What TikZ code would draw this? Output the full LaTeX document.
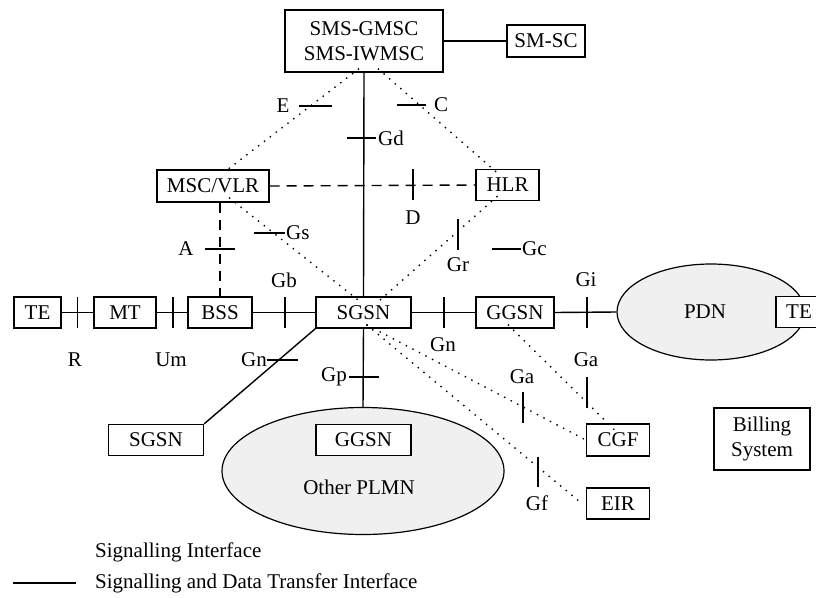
\documentclass[tikz,border=0pt]{standalone}
\usepackage{fontspec}
\setmainfont{Liberation Serif}
\usetikzlibrary{shapes.geometric,calc}
\definecolor{pdnfill}{HTML}{F0F0F0}
\begin{document}
\begin{tikzpicture}[x=1pt,y=-1pt,
  every node/.style={font=\fontsize{21}{25}\selectfont},
  box/.style={draw,line width=1.4pt,rectangle,inner sep=0pt,minimum height=31pt,fill=white},
  cloud/.style={draw,line width=1.2pt,ellipse,fill=pdnfill,inner sep=0pt},
  solidline/.style={line width=1.4pt},
  dotline/.style={line width=1.4pt,dash pattern=on 1.4pt off 6pt},
  dashline/.style={line width=1.4pt,dash pattern=on 10pt off 7pt},
  tickline/.style={line width=1.4pt},
  lbl/.style={inner sep=0pt}]
\clip (0,0) rectangle (816,597);
\fill[white] (0,0) rectangle (816,597);

% clouds first
\node[cloud,minimum width=188pt,minimum height=96pt] (pdn) at (711,312) {};
\node[lbl] (pdnlbl) at (705,312) {PDN};
\node[cloud,minimum width=282pt,minimum height=127pt] (plmn) at (363,471) {};
\node[lbl] (plmnlbl) at (359,487) {Other PLMN};

% boxes
\node[box,minimum width=158pt,minimum height=62pt,align=center] (sms) at (364,41) {SMS-GMSC\\SMS-IWMSC};
\node[box,minimum width=78pt,minimum height=32pt] (smsc) at (546,41) {SM-SC};
\node[box,minimum width=112pt,minimum height=32pt] (msc) at (213,186) {MSC/VLR};
\node[box,minimum width=63pt] (hlr) at (507.5,185) {HLR};
\node[box,minimum width=47pt] (te1) at (37.5,312.5) {TE};
\node[box,minimum width=62pt] (mt) at (125,312.5) {MT};
\node[box,minimum width=64pt] (bss) at (220,312.5) {BSS};
\node[box,minimum width=95pt] (sgsn) at (363.5,312.5) {SGSN};
\node[box,minimum width=78pt] (ggsn) at (515,312.5) {GGSN};
\node[box,minimum width=46pt] (te2) at (799,312) {TE};
\node[box,minimum width=95pt] (sgsn2) at (156,440) {SGSN};
\node[box,minimum width=95pt] (ggsn2) at (363.5,440) {GGSN};
\node[box,minimum width=63pt,minimum height=32pt] (cgf) at (618,440) {CGF};
\node[box,minimum width=63pt] (eir) at (618,503.5) {EIR};
\node[box,minimum width=96pt,minimum height=62pt,align=center] (bill) at (762,439) {Billing\\System};

% solid connectors
\draw[solidline] (sms.east) -- (smsc.west);
\draw[solidline] (sms.south) -- (sgsn.north);
\draw[solidline] (te1.east) -- (mt.west);
\draw[solidline] (mt.east) -- (bss.west);
\draw[solidline] (bss.east) -- (sgsn.west);
\draw[solidline] (sgsn.east) -- (ggsn.west);
\draw[solidline] (ggsn.east) -- (pdn.west);
\draw[solidline] (sgsn.south west) -- (sgsn2.north east);
\draw[solidline] (sgsn.south) -- (plmn.north);

% dashed connectors
\draw[dashline] (msc.east) -- (hlr.west);
\draw[dashline] (bss.north |- msc.south) -- (bss.north);

% dotted connectors
\draw[dotline] ([xshift=-5pt,yshift=4pt]sms.south) -- ([xshift=11pt,yshift=-3pt]msc.north);
\draw[dotline] ([xshift=14pt,yshift=4pt]sms.south) -- ([xshift=-8pt,yshift=-6pt]hlr.north);
\draw[dotline] ([xshift=16pt,yshift=5pt]msc.south) -- ([xshift=-5pt,yshift=-4pt]sgsn.north);
\draw[dotline] ([xshift=-10pt,yshift=5pt]hlr.south) -- ([xshift=14pt,yshift=-6pt]sgsn.north);
\draw[dotline] ([xshift=3pt,yshift=4pt]sgsn.south) -- (cgf.west);
\draw[dotline] ([xshift=3pt,yshift=4pt]sgsn.south) -- ([xshift=-4pt]eir.west);
\draw[dotline] ([xshift=-7pt,yshift=4pt]ggsn.south) -- ([yshift=-10pt]cgf.north);

% interface ticks and labels
\draw[tickline] (299,106) -- (332,106); \node[lbl] (lE) at (283,106) {E};
\draw[tickline] (397,105) -- (426,105); \node[lbl] (lC) at (441,105) {C};
\draw[tickline] (347,138) -- (376,138); \node[lbl,anchor=west] (lGd) at (378,138) {Gd};
\draw[tickline] (413,169) -- (413,200); \node[lbl] (lD) at (413,218) {D};
\draw[tickline] (205,249) -- (235,249); \node[lbl] (lA) at (186,249) {A};
\draw[tickline] (254,233) -- (285,233); \node[lbl,anchor=west] (lGs) at (286,233) {Gs};
\draw[tickline] (458,219) -- (458,250); \node[lbl] (lGr) at (458,265) {Gr};
\draw[tickline] (492,249) -- (521,249); \node[lbl,anchor=west] (lGc) at (522,249) {Gc};
\node[lbl] (lGb) at (284,280) {Gb};
\node[lbl] (lGi) at (586,280) {Gi};
\draw[tickline] (77.5,297) -- (77.5,328);
\draw[tickline] (173,297) -- (173,328);
\draw[tickline] (285,297) -- (285,328);
\draw[tickline] (444,297) -- (444,328);
\draw[tickline] (587,297) -- (587,328);
\node[lbl] (lR) at (75,360) {R};
\node[lbl] (lUm) at (171,360) {Um};
\draw[tickline] (267,360) -- (298,360); \node[lbl,anchor=east] (lGn1) at (267,360) {Gn};
\node[lbl] (lGn2) at (443,345) {Gn};
\draw[tickline] (349,377) -- (379,377); \node[lbl,anchor=east] (lGp) at (347,377) {Gp};
\draw[tickline] (523,392) -- (523,423); \node[lbl] (lGa1) at (522,377) {Ga};
\draw[tickline] (587,377) -- (587,408); \node[lbl] (lGa2) at (586,360) {Ga};
\draw[tickline] (538,457) -- (538,487); \node[lbl] (lGf) at (537,503) {Gf};

% legend
\node[lbl,anchor=west] (leg1) at (95,552) {Signalling Interface};
\coordinate (legA) at (13,583);
\node[lbl,anchor=west] (leg2) at (95,583) {Signalling and Data Transfer Interface};
\draw[solidline] (legA) -- ([xshift=-19pt]leg2.west);
\end{tikzpicture}
\end{document}
